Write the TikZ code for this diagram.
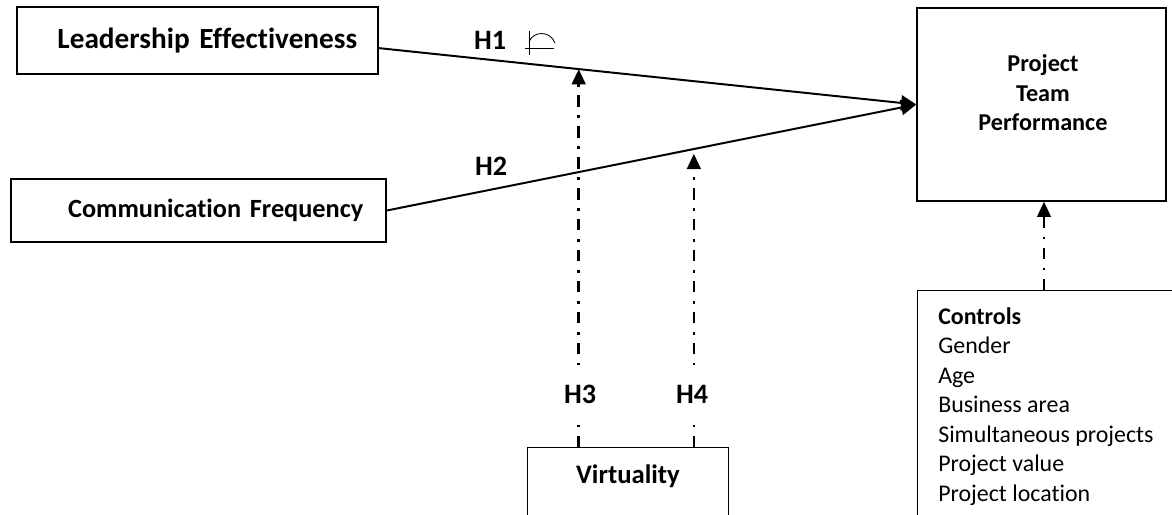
\documentclass[tikz,border=0pt]{standalone}
\usepackage{fontspec}
\setmainfont{Carlito}[Ligatures=NoCommon]
\usepackage{tikz}
\usetikzlibrary{arrows.meta,positioning,calc}
\tikzset{every node/.append style={align=center}}

\begin{document}
\begin{tikzpicture}[x=0.025cm,y=-0.025cm,
    box/.style={draw, line width=1pt, rectangle, inner sep=0pt},
    hlabel/.style={font=\fontsize{20}{24}\selectfont\bfseries, inner sep=2pt},
    effect/.style={line width=1.4pt, -{Triangle[length=0.38cm,width=0.38cm]}},
    moder/.style={line width=1.8pt, dash pattern=on 8pt off 6pt on 2pt off 6pt,
                  -{Triangle[length=0.38cm,width=0.34cm]}}]
  \useasboundingbox (0,0) rectangle (1172,514);
  \clip (0,0) rectangle (1172,514);

  % constructs
  \node[box, font=\fontsize{20.8}{24}\selectfont\bfseries, minimum width=9.025cm, minimum height=1.675cm,
        inner xsep=0.52cm, text width=7.985cm, align=right] (lead) at (197.5,40.5) {Leadership Effectiveness};
  \node[box, font=\fontsize{18.7}{24}\selectfont\bfseries, minimum width=9.375cm, minimum height=1.575cm,
        inner xsep=0.57cm, text width=8.235cm, align=right] (comm) at (198.5,210.5) {Communication Frequency};
  \node[box, minimum width=6.225cm, minimum height=4.825cm] (ptp) at (1041.5,104.5) {};
  \node[font=\fontsize{17.2}{21}\selectfont\bfseries] (ptptxt) at (1043,93) {Project\\Team\\Performance};
  \node[box, anchor=north west, minimum width=6.625cm, minimum height=5.9cm] (ctrl) at (917,290) {};
  \node[anchor=north west, inner sep=0pt, align=left, font=\fontsize{17}{21}\selectfont]
        (ctrltxt) at (938,307) {\textbf{Controls}\\Gender\\Age\\Business area\\Simultaneous projects\\Project value\\Project location};
  \node[box, anchor=north, minimum width=5.025cm, minimum height=2cm] (virt) at (628,447) {};
  \node[font=\fontsize{19}{21}\selectfont\bfseries] (virttxt) at (628,476) {Virtuality};

  % main effects
  \draw[effect] ([yshift=-0.19cm]lead.east) -- (ptp.west);
  \draw[effect] (comm.east) -- (ptp.west);
  \path ([yshift=-0.19cm]lead.east) -- (ptp.west) coordinate[pos=0.372] (m1);
  \path (comm.east) -- (ptp.west) coordinate[pos=0.58] (m2);

  % moderation and controls
  \draw[moder] (virt.north -| m1) -- (m1);
  \draw[moder, shorten >=0.12cm] (virt.north -| m2) -- (m2);
  \draw[moder] (ctrl.north -| 1044,0) -- (ptp.south -| 1044,0);

  \node[hlabel] (h1) at (490,40) {H1};
  \node[hlabel] (h2) at (491,166) {H2};
  \node[hlabel, fill=white, inner ysep=0.5cm] (h3) at (580,394) {H3};
  \node[hlabel, fill=white, inner ysep=0.5cm] (h4) at (692,394) {H4};

  % stray mark next to H1
  \draw[line width=0.6pt] (529,31) -- (529,55) (525,48) -- (554,48);
  \draw[line width=0.6pt] (529,42) .. controls (533,31) and (550,30) .. (555,43);
\end{tikzpicture}
\end{document}
